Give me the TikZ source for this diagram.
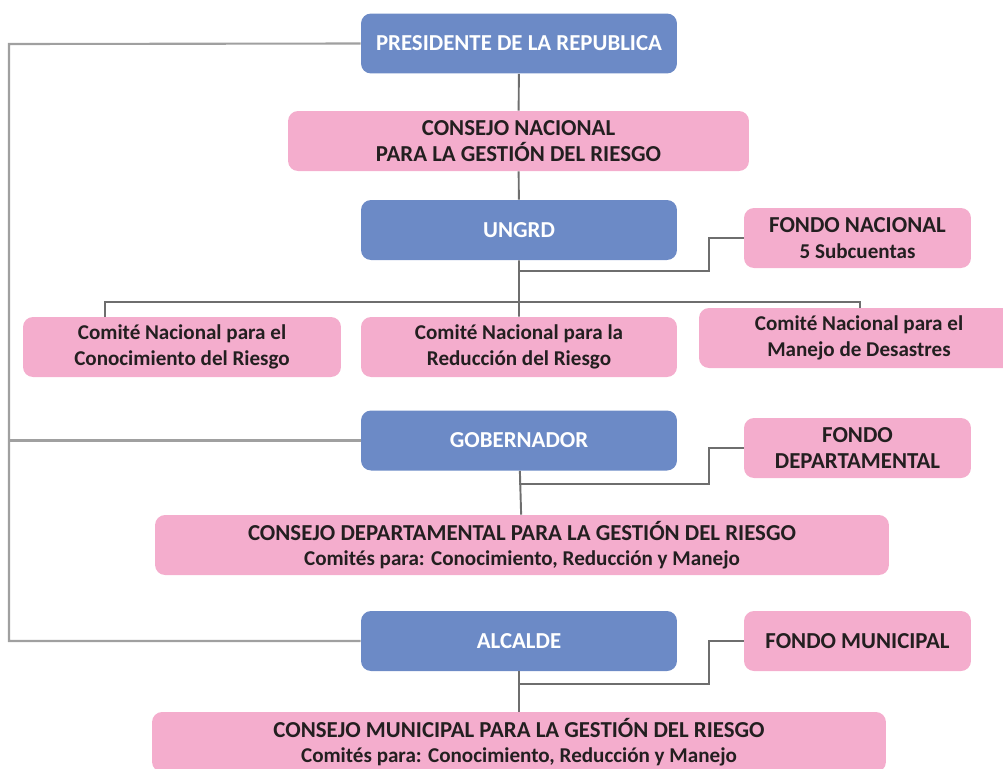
\documentclass[tikz,border=0pt]{standalone}
\usepackage{fontspec}
\setmainfont{Carlito}
\usetikzlibrary{calc}

\definecolor{azul}{HTML}{6C8AC6}
\definecolor{rosa}{HTML}{F4ADCD}
\definecolor{texto}{HTML}{231F20}
\definecolor{gris}{HTML}{6E6E6E}
\definecolor{grisclaro}{HTML}{A0A0A0}

\newcommand{\chico}{\fontsize{12}{14.5}\selectfont}

\begin{document}
\begin{tikzpicture}[x=0.02cm,y=-0.02cm,
    caja/.style={rounded corners=0.2cm, align=center, inner sep=0pt,
        font=\bfseries\fontsize{13}{14.5}\selectfont},
    azulbox/.style={caja, fill=azul, text=white,
        minimum width=6.32cm, minimum height=1.2cm},
    rosabox/.style={caja, fill=rosa, text=texto, minimum height=1.2cm},
    linea/.style={draw=gris, line width=1.1pt},
    lineagris/.style={draw=grisclaro, line width=1.2pt}]
    \clip (0,0) rectangle (1003,768);

    \node[azulbox] (pres) at (519,43.5) {PRESIDENTE DE LA REPUBLICA};
    \node[rosabox, minimum width=9.22cm] (cnac) at (518.5,141)
        {CONSEJO NACIONAL\\PARA LA GESTIÓN DEL RIESGO};
    \node[azulbox] (ungrd) at (519,230) {UNGRD};
    \node[rosabox, minimum width=4.54cm] (fnac) at (857.5,238)
        {FONDO NACIONAL\\\chico 5 Subcuentas};
    \node[rosabox, minimum width=6.36cm, font=\bfseries\chico] (cono) at (182,347)
        {Comité Nacional para el\\Conocimiento del Riesgo};
    \node[rosabox, minimum width=6.32cm, font=\bfseries\chico] (redu) at (519,347)
        {Comité Nacional para la\\Reducción del Riesgo};
    \node[rosabox, minimum width=6.4cm, font=\bfseries\chico] (mane) at (859,338)
        {Comité Nacional para el\\Manejo de Desastres};
    \node[azulbox] (gob) at (519,440.5) {GOBERNADOR};
    \node[rosabox, minimum width=4.54cm] (fdep) at (857.5,448)
        {FONDO\\DEPARTAMENTAL};
    \node[rosabox, minimum width=14.68cm] (cdep) at (522,545)
        {CONSEJO DEPARTAMENTAL PARA LA GESTIÓN DEL RIESGO\\\chico Comités para: Conocimiento, Reducción y Manejo};
    \node[azulbox] (alc) at (519,641) {ALCALDE};
    \node[rosabox, minimum width=4.54cm] (fmun) at (857.5,641) {FONDO MUNICIPAL};
    \node[rosabox, minimum width=14.68cm] (cmun) at (519,742)
        {CONSEJO MUNICIPAL PARA LA GESTIÓN DEL RIESGO\\\chico Comités para: Conocimiento, Reducción y Manejo};

    \coordinate (iz) at (9,44);
    \coordinate (j1) at (519,271);
    \coordinate (bi) at (105,302);
    \coordinate (bd) at (860,302);
    \coordinate (j2) at (519,484);
    \coordinate (j3) at (519,684);

    \draw[lineagris] (pres.west) -- (iz) |- (alc.west);
    \draw[lineagris] (gob.west) -- (iz |- gob.west);
    \draw[linea] (pres) -- (cnac) -- (ungrd) -- (redu);
    \draw[linea] (fnac.west) -- ++(-35,0) |- (j1);
    \draw[linea] (bi |- cono.north) -- (bi) -- (bd) -- (bd |- mane.north);
    \draw[linea] (gob) -- (cdep);
    \draw[linea] (fdep.west) -- ++(-35,0) |- (j2);
    \draw[linea] (alc) -- (cmun);
    \draw[linea] (fmun.west) -- ++(-35,0) |- (j3);
\end{tikzpicture}
\end{document}
